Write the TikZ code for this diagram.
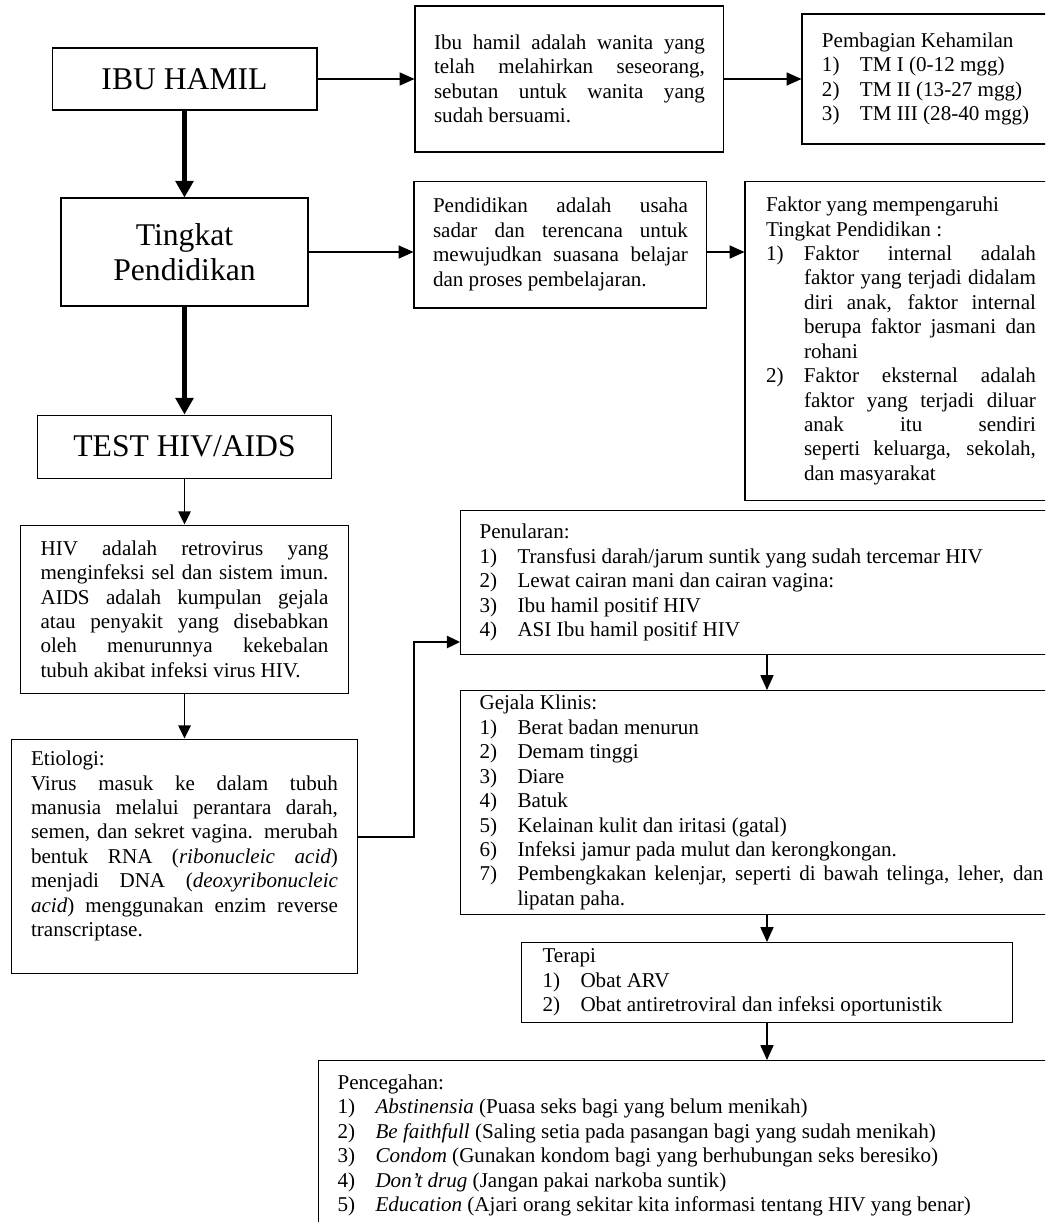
\documentclass[tikz,border=0pt]{standalone}
\usepackage{fontspec}
\setmainfont{Liberation Serif}
\usepackage{tikz}
\usetikzlibrary{positioning, arrows.meta}

\newlength{\nomorw}
\setlength{\nomorw}{0.76cm}
\setlength{\parindent}{0pt}
\tolerance=10000
\hbadness=10000
\hyphenpenalty=10000
\newcommand{\teks}{\fontsize{12}{13.9}\selectfont\parindent=0pt}
\newcommand{\judul}{\fontsize{18}{20}\selectfont}
\newcommand{\butir}[2]{\par\hangindent=\nomorw\hangafter=1\noindent\makebox[\nomorw][l]{#1}#2}

\tikzset{
	kotak/.style={draw, rectangle, line width=0.6pt, font=\teks, align=justify, inner ysep=2pt},
	kotakbesar/.style={draw, rectangle, line width=0.6pt, font=\judul, align=center},
	panahtipis/.style={-{Triangle[length=8.5pt,width=7.5pt]}, line width=0.6pt},
	panahsedang/.style={-{Triangle[length=7.5pt,width=7pt]}, line width=1.1pt},
	panahtebal/.style={-{Triangle[length=9.5pt,width=10pt]}, line width=3.4pt},
}

\begin{document}
\begin{tikzpicture}[x=0.02cm, y=-0.02cm]
		\clip (0,0) rectangle (1045,1222);

		% Nodes
		\node (ibu) [kotakbesar, minimum width=5.3cm, minimum height=1.24cm] at (184.5,79) {IBU HAMIL};
		\node (tingkat) [kotakbesar, minimum width=4.94cm, minimum height=2.16cm, below=1.74cm of ibu] {Tingkat\\Pendidikan};
		\node (test) [kotakbesar, minimum width=5.88cm, minimum height=1.26cm, below=2.16cm of tingkat] {TEST HIV/AIDS};
		\node (hiv) [kotak, text width=5.76cm, inner xsep=0.4cm, minimum height=3.36cm, below=0.92cm of test]
			{HIV adalah retrovirus yang\linebreak menginfeksi sel dan sistem imun.\linebreak AIDS adalah kumpulan gejala\linebreak
				atau penyakit yang disebabkan\linebreak oleh menurunnya kekebalan\linebreak tubuh akibat infeksi virus HIV.\par};
		\node (etiologi) [kotak, text width=6.14cm, inner xsep=0.39cm, minimum height=4.68cm, below=0.9cm of hiv]
			{Etiologi:\par Virus masuk ke dalam tubuh\linebreak manusia melalui perantara darah,\linebreak
				semen, dan sekret vagina. merubah\linebreak bentuk RNA (\textit{ribonucleic acid})\linebreak
				menjadi DNA (\textit{deoxyribonucleic\linebreak acid}) menggunakan enzim reverse\linebreak
				transcriptase.\par\mbox{}\par};

		\node (def1) [kotak, text width=5.42cm, inner xsep=0.38cm, minimum height=2.92cm, right=1.94cm of ibu]
			{Ibu hamil adalah wanita yang\linebreak telah melahirkan seseorang,\linebreak sebutan untuk wanita yang\linebreak sudah bersuami.\par};
		\node (pembagian) [kotak, text width=4.6cm, inner xsep=0.4cm, minimum height=2.6cm, right=1.54cm of def1]
			{Pembagian Kehamilan
				\butir{1)}{TM I (0-12 mgg)}
				\butir{2)}{TM II (13-27 mgg)}
				\butir{3)}{TM III (28-40 mgg)}\par};
		\node (def2) [kotak, text width=5.1cm, inner xsep=0.38cm, minimum height=2.54cm, right=2.1cm of tingkat, yshift=0.15cm]
			{Pendidikan adalah usaha\linebreak sadar dan terencana untuk\linebreak mewujudkan suasana belajar\linebreak dan proses pembelajaran.\par};
		\node (faktor) [kotak, text width=5.4cm, inner xsep=0.42cm, minimum height=6.4cm, right=0.74cm of def2.north east, anchor=north west]
			{Faktor yang mempengaruhi\par Tingkat Pendidikan :
				\butir{1)}{Faktor internal adalah\linebreak faktor yang terjadi didalam\linebreak diri anak, faktor internal\linebreak
					berupa faktor jasmani dan\linebreak rohani}
				\butir{2)}{Faktor eksternal adalah\linebreak faktor yang terjadi diluar\linebreak anak itu sendiri\linebreak
					seperti keluarga, sekolah,\linebreak dan masyarakat}\par};

		\node (penularan) [kotak, anchor=north west, text width=11.28cm, inner xsep=0.38cm, minimum height=2.88cm] at (460,510)
			{Penularan:
				\butir{1)}{Transfusi darah/jarum suntik yang sudah tercemar HIV}
				\butir{2)}{Lewat cairan mani dan cairan vagina:}
				\butir{3)}{Ibu hamil positif HIV}
				\butir{4)}{ASI Ibu hamil positif HIV}\par};
		\node (gejala) [kotak, text width=11.28cm, inner xsep=0.38cm, minimum height=4.48cm, below=0.7cm of penularan.south west, anchor=north west]
			{Gejala Klinis:
				\butir{1)}{Berat badan menurun}
				\butir{2)}{Demam tinggi}
				\butir{3)}{Diare}
				\butir{4)}{Batuk}
				\butir{5)}{Kelainan kulit dan iritasi (gatal)}
				\butir{6)}{Infeksi jamur pada mulut dan kerongkongan.}
				\butir{7)}{Pembengkakan kelenjar, seperti di bawah telinga, leher, dan\linebreak lipatan paha.}\par};
		\node (terapi) [kotak, anchor=north west, text width=8.98cm, inner xsep=0.42cm, minimum height=1.6cm] at (521,942)
			{Terapi
				\butir{1)}{Obat ARV}
				\butir{2)}{Obat antiretroviral dan infeksi oportunistik}\par};
		\node (pencegahan) [kotak, anchor=north west, text width=14.12cm, inner xsep=0.38cm, minimum height=3.4cm] at (318,1060)
			{Pencegahan:
				\butir{1)}{\textit{Abstinensia} (Puasa seks bagi yang belum menikah)}
				\butir{2)}{\textit{Be faithfull} (Saling setia pada pasangan bagi yang sudah menikah)}
				\butir{3)}{\textit{Condom} (Gunakan kondom bagi yang berhubungan seks beresiko)}
				\butir{4)}{\textit{Don’t drug} (Jangan pakai narkoba suntik)}
				\butir{5)}{\textit{Education} (Ajari orang sekitar kita informasi tentang HIV yang benar)}\par};

		% Elbow of the Etiologi connector
		\coordinate (siku) at (414,837);
		\coordinate (siku2) at (414,642);

		% Arrows
		\draw[panahtebal] (ibu.south) -- (ibu.south |- tingkat.north);
		\draw[panahtebal] (tingkat.south) -- (tingkat.south |- test.north);
		\draw[panahsedang] (test.south) -- (test.south |- hiv.north);
		\draw[panahsedang] (hiv.south) -- (hiv.south |- etiologi.north);
		\draw[panahtipis] (ibu.east) -- (ibu.east -| def1.west);
		\draw[panahtipis] (def1.east) -- (def1.east -| pembagian.west);
		\draw[panahtipis] (tingkat.east) -- (tingkat.east -| def2.west);
		\draw[panahtipis] (tingkat.east -| def2.east) -- (tingkat.east -| faktor.west);
		\draw[panahsedang] (etiologi.east |- siku) -| (siku2) -- (siku2 -| penularan.west);
		\draw[panahtipis] (terapi.north |- penularan.south) -- (terapi.north |- gejala.north);
		\draw[panahtipis] (terapi.north |- gejala.south) -- (terapi.north);
		\draw[panahtipis] (terapi.south) -- (terapi.south |- pencegahan.north);
	\end{tikzpicture}
\end{document}
